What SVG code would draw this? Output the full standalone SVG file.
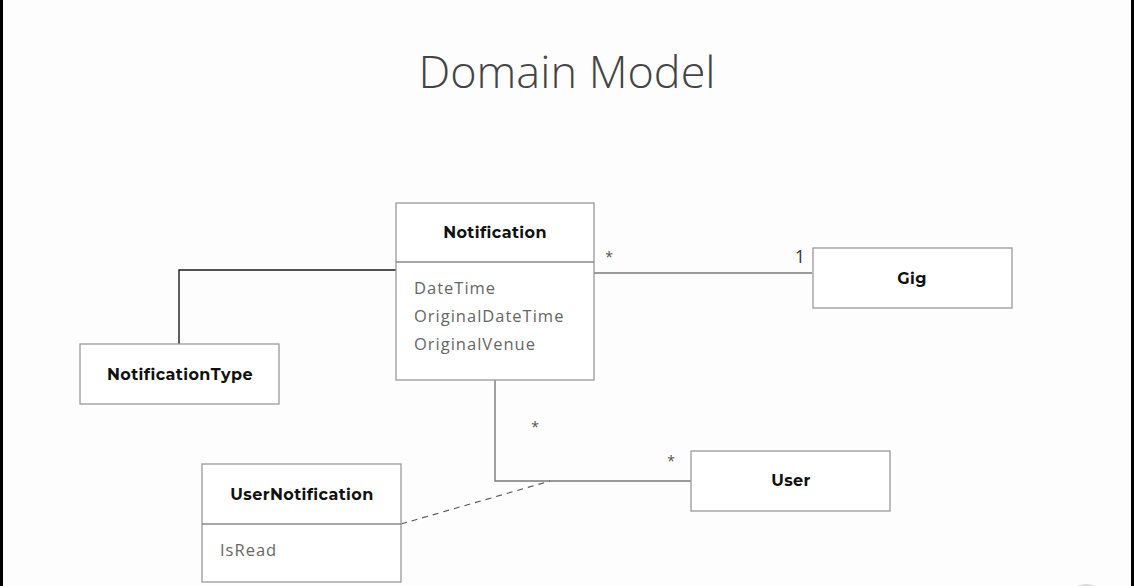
<svg xmlns="http://www.w3.org/2000/svg" width="1134" height="586" viewBox="0 0 1134 586">
<style>
.box{fill:#ffffff;stroke:#9a9a9a;stroke-width:1.3}
.div{stroke:#8a8a8a;stroke-width:1.3}
.name{font-family:"Montserrat","Open Sans","Liberation Sans",sans-serif;font-weight:700;font-size:16px;letter-spacing:0.4px;fill:#111;text-anchor:middle}
.attr{font-family:"Open Sans","Liberation Sans",sans-serif;font-size:16.5px;letter-spacing:1px;fill:#666}
.mult{font-family:"Open Sans","Liberation Sans",sans-serif;font-size:14px;fill:#555}
.conn{fill:none;stroke:#7a7a7a;stroke-width:1.4}
</style>
<rect width="1134" height="586" fill="#fdfdfd"/>
<rect x="0" y="0" width="3" height="586" fill="#000"/>
<rect x="1131" y="0" width="3" height="586" fill="#000"/>
<text x="567" y="88" text-anchor="middle" font-family="Open Sans, Liberation Sans, sans-serif" font-weight="300" font-size="45" fill="#444">Domain Model</text>
<g id="connectors">
<path d="M396 270 H179 V344" fill="none" stroke="#1a1a1a" stroke-width="1.4"/>
<path class="conn" d="M594 273 H812"/>
<path class="conn" d="M495 380 V481 H691"/>
<path d="M401 524 L550 481" fill="none" stroke="#555" stroke-dasharray="6,5" stroke-width="1.1"/>
<text class="mult" x="609" y="262" text-anchor="middle">*</text>
<text class="mult" x="800" y="263" text-anchor="middle" style="font-size:18px;fill:#333">1</text>
<text class="mult" x="535" y="432" text-anchor="middle">*</text>
<text class="mult" x="671" y="466" text-anchor="middle">*</text>
</g>
<g id="Notification">
<rect class="box" x="396" y="203" width="198" height="177"/>
<line class="div" x1="396" y1="262" x2="594" y2="262"/>
<text class="name" x="495" y="238">Notification</text>
<text class="attr" x="414" y="294">DateTime</text>
<text class="attr" x="414" y="322">OriginalDateTime</text>
<text class="attr" x="414" y="350">OriginalVenue</text>
</g>
<g id="Gig">
<rect class="box" x="813" y="248" width="199" height="60"/>
<text class="name" x="912" y="284">Gig</text>
</g>
<g id="NotificationType">
<rect class="box" x="80" y="344" width="199" height="60"/>
<text class="name" x="180" y="380">NotificationType</text>
</g>
<g id="User">
<rect class="box" x="691" y="451" width="199" height="60"/>
<text class="name" x="791" y="486">User</text>
</g>
<g id="UserNotification">
<rect class="box" x="202" y="464" width="199" height="118"/>
<line class="div" x1="202" y1="524" x2="401" y2="524"/>
<text class="name" x="302" y="500">UserNotification</text>
<text class="attr" x="220" y="556">IsRead</text>
</g>
<circle cx="1086" cy="604" r="20" fill="#d9d9d9"/>
</svg>
